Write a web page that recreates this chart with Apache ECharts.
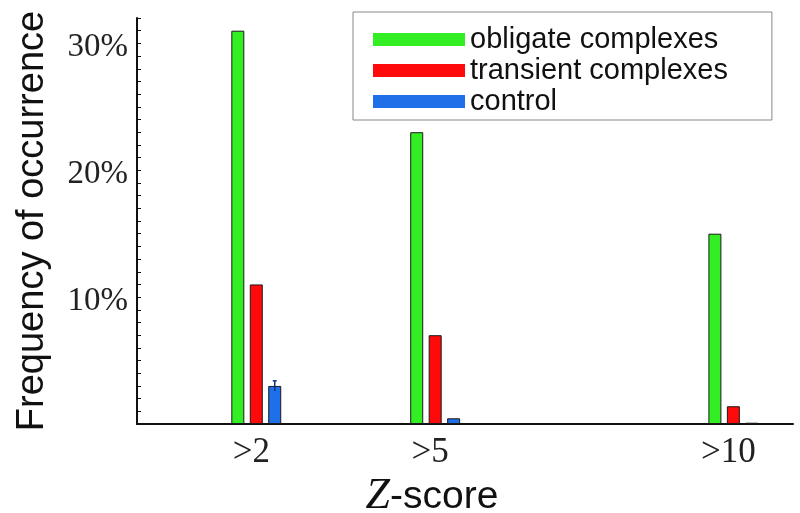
<!DOCTYPE html>
<html>
<head>
<meta charset="utf-8">
<script src="https://cdn.jsdelivr.net/npm/echarts@6/dist/echarts.min.js"></script>
<style>
  html, body { margin: 0; padding: 0; background: #fff; }
  #chart { width: 800px; height: 513px; }
</style>
</head>
<body>
<div id="chart"></div>
<script>
// Z-score thresholds (numeric positions on the x axis) and their tick labels
const zPositions = [2, 5, 10]
const zLabels = ['>2', '>5', '>10']

// frequency of occurrence, in percent
const obligate = [31, 23, 15]
const transient = [11, 7, 1.4]
const control = [3, 0.45, 0.1]
// error bar on the control series: [z, low, high]
const controlErr = [[2, 2.6, 3.4]]

const seriesNames = ['obligate complexes', 'transient complexes', 'control']
const seriesColors = ['#33ee22', '#ff0a0a', '#1f6fe8']

const BAR_W = 13
const BAR_GAP = 0.42

const chart = echarts.init(document.getElementById('chart'))

const toPoints = (vals) => vals.map((v, i) => [zPositions[i], v])

const barSeries = [obligate, transient, control].map((vals, i) => ({
  name: seriesNames[i],
  type: 'bar',
  data: toPoints(vals),
  barWidth: BAR_W,
  barGap: BAR_GAP * 100 + '%',
  itemStyle: {
    color: seriesColors[i],
    borderColor: '#1a1a1a',
    borderWidth: 1
  }
}))

chart.setOption({
  backgroundColor: '#fff',
  animation: false,
  grid: { left: 137, right: 7, top: 18, bottom: 89, outerBoundsMode: 'none', containLabel: false },
  legend: {
    orient: 'vertical',
    left: 353,
    top: 12,
    padding: [13, 44, 4, 20],
    itemGap: 2,
    itemWidth: 92,
    itemHeight: 13,
    icon: 'rect',
    borderColor: '#888',
    borderWidth: 1,
    itemStyle: { borderWidth: 0 },
    textStyle: { fontFamily: 'Liberation Sans', fontSize: 29, color: '#111' },
    data: seriesNames
  },
  xAxis: {
    type: 'value',
    min: 0,
    max: 11,
    interval: 1,
    name: '{z|Z}{s|-score}',
    nameLocation: 'middle',
    nameGap: 40,
    nameTextStyle: {
      padding: [0, 66, 0, 0],
      rich: {
        z: { fontFamily: 'Liberation Serif', fontStyle: 'italic', fontSize: 44, color: '#111' },
        s: { fontFamily: 'Liberation Sans', fontSize: 39, color: '#111' }
      }
    },
    axisLine: { lineStyle: { color: '#111', width: 2 } },
    axisTick: { show: false },
    splitLine: { show: false },
    axisLabel: {
      margin: 11,
      padding: [0, 10, 0, 0],
      fontFamily: 'Liberation Serif',
      fontSize: 35,
      color: '#222',
      formatter: (v) => {
        const i = zPositions.indexOf(v)
        return i >= 0 ? zLabels[i] : ''
      }
    }
  },
  yAxis: {
    type: 'value',
    min: 0,
    max: 32,
    interval: 1,
    name: 'Frequency of occurrence',
    nameLocation: 'middle',
    nameGap: 85,
    nameTextStyle: { fontFamily: 'Liberation Sans', fontSize: 38, color: '#111' },
    axisLine: { show: true, lineStyle: { color: '#111', width: 2 } },
    axisTick: { show: true, inside: true, length: 4, lineStyle: { color: '#111' } },
    splitLine: { show: false },
    axisLabel: {
      margin: 9,
      formatter: (v) => (v > 0 && v % 10 === 0 ? '{g|}\n{t|' + v + '%}' : ''),
      rich: {
        g: { height: 8, lineHeight: 8, fontSize: 8 },
        t: { fontFamily: 'Liberation Serif', fontSize: 33, color: '#222' }
      }
    }
  },
  series: [
    ...barSeries,
    {
      type: 'custom',
      name: 'control error',
      data: controlErr,
      z: 3,
      renderItem: (params, api) => {
        const lo = api.coord([api.value(0), api.value(1)])
        const hi = api.coord([api.value(0), api.value(2)])
        const x = lo[0] + BAR_W * (1 + BAR_GAP)
        return {
          type: 'group',
          children: [
            { type: 'line', shape: { x1: x, y1: lo[1], x2: x, y2: hi[1] }, style: { stroke: '#0b2f80', lineWidth: 1.5 } },
            { type: 'line', shape: { x1: x - 2, y1: hi[1], x2: x + 2, y2: hi[1] }, style: { stroke: '#0b2f80', lineWidth: 1.5 } }
          ]
        }
      }
    }
  ]
})
</script>
</body>
</html>
